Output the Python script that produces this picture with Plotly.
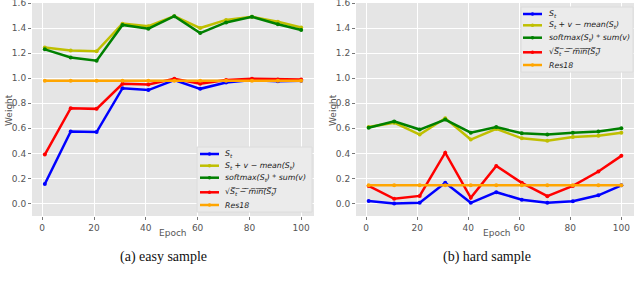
import plotly.graph_objects as go

epochs = [1, 11, 21, 31, 41, 51, 61, 71, 81, 91, 100]

easy_st = [0.155, 0.575, 0.57, 0.92, 0.905, 0.985, 0.915, 0.965, 0.985, 0.975, 0.98]
easy_mean = [1.245, 1.22, 1.215, 1.435, 1.415, 1.495, 1.40, 1.465, 1.49, 1.45, 1.405]
easy_soft = [1.23, 1.165, 1.14, 1.425, 1.395, 1.495, 1.36, 1.445, 1.49, 1.43, 1.385]
easy_sqrt = [0.39, 0.76, 0.755, 0.955, 0.95, 0.995, 0.955, 0.985, 0.995, 0.99, 0.99]
easy_res = [0.98] * 11

hard_st = [0.02, 0.0, 0.005, 0.165, 0.005, 0.09, 0.03, 0.005, 0.018, 0.065, 0.145]
hard_mean = [0.61, 0.645, 0.55, 0.68, 0.51, 0.595, 0.52, 0.50, 0.53, 0.54, 0.565]
hard_soft = [0.605, 0.655, 0.59, 0.67, 0.565, 0.61, 0.56, 0.55, 0.565, 0.575, 0.60]
hard_sqrt = [0.14, 0.037, 0.06, 0.405, 0.045, 0.30, 0.165, 0.058, 0.14, 0.255, 0.38]
hard_res = [0.145] * 11

names = [
    "<i>S<sub>t</sub></i>",
    "<i>S<sub>t</sub> + v − mean(S<sub>t</sub>)</i>",
    "<i>softmax(S<sub>t</sub>) * sum(v)</i>",
    "√<i>S̅<sub>t</sub> ̅−̅ ̅m̅i̅n̅(̅S̅<sub>t</sub>)̅</i>",
    "<i>Res18</i>",
]
colors = ["#0000FF", "#BFBF00", "#008000", "#FF0000", "#FFA500"]

W, H = 640, 285
fig = go.Figure()

panels = [
    ([easy_st, easy_mean, easy_soft, easy_sqrt, easy_res], "x", "y"),
    ([hard_st, hard_mean, hard_soft, hard_sqrt, hard_res], "x2", "y2"),
]
for series, xa, ya in panels:
    for vals, nm, c in zip(series, names, colors):
        fig.add_trace(go.Scatter(
            x=epochs, y=vals, name=nm, mode="lines+markers",
            line=dict(color=c, width=2.5), marker=dict(color=c, size=4),
            xaxis=xa, yaxis=ya, showlegend=False,
        ))

tickfont = dict(family="DejaVu Sans", size=9, color="#555555")
ydom = [1 - 216 / H, 1 - 3 / H]
common_x = dict(range=[-3.95, 104.95], tickvals=[0, 20, 40, 60, 80, 100],
                showgrid=True, gridcolor="white", gridwidth=1, zeroline=False,
                tickfont=tickfont, ticks="outside", ticklen=3, tickcolor="#777777",
                showline=False, automargin=False, ticklabeloverflow="allow")
common_y = dict(range=[-0.1, 1.6], tickvals=[0, 0.2, 0.4, 0.6, 0.8, 1.0, 1.2, 1.4, 1.6],
                ticktext=["0.0", "0.2", "0.4", "0.6", "0.8", "1.0", "1.2", "1.4", "1.6"],
                showgrid=True, gridcolor="white", gridwidth=1, zeroline=False,
                tickfont=tickfont, ticks="outside", ticklen=3, tickcolor="#777777",
                domain=ydom, automargin=False, ticklabeloverflow="allow")

fig.update_layout(
    width=W, height=H, margin=dict(l=0, r=0, t=0, b=0),
    paper_bgcolor="white", plot_bgcolor="#E5E5E5",
    xaxis=dict(domain=[32 / W, 314 / W], anchor="y", **common_x),
    yaxis=dict(anchor="x", **common_y),
    xaxis2=dict(domain=[356 / W, 634 / W], anchor="y2", **common_x),
    yaxis2=dict(anchor="x2", **common_y),
    showlegend=False,
)

# manual legends (pixel layout)
legend_boxes = [
    dict(x0=197, x1=312, y0=147, y1=212, lx0=200, lx1=219, tx=223,
         ys=[154, 165.7, 177.7, 192.3, 205]),
    dict(x0=521, x1=633, y0=7, y1=72, lx0=523, lx1=542, tx=547,
         ys=[14, 25.3, 37.7, 52.3, 65]),
]
def px(x):
    return x / W
def py(y):
    return 1 - y / H

for lb in legend_boxes:
    fig.add_shape(type="rect", xref="paper", yref="paper",
                  x0=px(lb["x0"]), x1=px(lb["x1"]), y0=py(lb["y0"]), y1=py(lb["y1"]),
                  fillcolor="#EBEBEB", line=dict(color="#DCDCDC", width=1), layer="above")
    for nm, c, yy in zip(names, colors, lb["ys"]):
        fig.add_shape(type="line", xref="paper", yref="paper",
                      x0=px(lb["lx0"]), x1=px(lb["lx1"]), y0=py(yy), y1=py(yy),
                      line=dict(color=c, width=2.5), layer="above")
        cx = (lb["lx0"] + lb["lx1"]) / 2
        fig.add_shape(type="circle", xref="paper", yref="paper",
                      x0=px(cx - 1.8), x1=px(cx + 1.8), y0=py(yy - 1.8), y1=py(yy + 1.8),
                      fillcolor=c, line=dict(width=0), layer="above")
        fig.add_annotation(xref="paper", yref="paper", showarrow=False,
                           x=px(lb["tx"]), y=py(yy), text=nm, xanchor="left", yanchor="middle",
                           font=dict(family="DejaVu Sans", size=7.8, color="#222222"))

for xx in [173, 497]:
    fig.add_annotation(xref="paper", yref="paper", showarrow=False, x=px(xx), y=py(233),
                       text="Epoch", font=dict(family="DejaVu Sans", size=9, color="#555555"),
                       xanchor="center", yanchor="middle")
for xx in [9, 333]:
    fig.add_annotation(xref="paper", yref="paper", showarrow=False, x=px(xx), y=py(110),
                       text="Weight", textangle=-90,
                       font=dict(family="DejaVu Sans", size=9, color="#555555"),
                       xanchor="center", yanchor="middle")
for txt, xx in [("(a) easy sample", 163), ("(b) hard sample", 487)]:
    fig.add_annotation(xref="paper", yref="paper", showarrow=False, x=px(xx), y=py(257),
                       text=txt, font=dict(family="Liberation Serif", size=14, color="#111111"),
                       xanchor="center", yanchor="middle")

fig.write_html("out.html", config={"displayModeBar": False},
               post_script="document.body.style.margin='0';document.body.style.padding='0';document.body.style.overflow='hidden';")
